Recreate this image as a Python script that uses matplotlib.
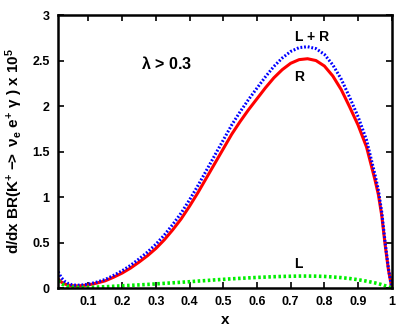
import matplotlib
matplotlib.use("Agg")
import matplotlib.pyplot as plt

plt.rcParams['font.family'] = ['Liberation Sans', 'DejaVu Sans']
plt.rcParams['font.weight'] = 'bold'
plt.rcParams['mathtext.fontset'] = 'custom'
plt.rcParams['mathtext.rm'] = 'Liberation Sans:bold'
plt.rcParams['mathtext.sf'] = 'Liberation Sans'
plt.rcParams['mathtext.it'] = 'Liberation Sans:italic:bold'
plt.rcParams['mathtext.bf'] = 'Liberation Sans:bold'
plt.rcParams['mathtext.default'] = 'rm'

# values (in units of 1e-5)
x = [0.01, 0.02, 0.03, 0.04, 0.05, 0.06, 0.07, 0.08, 0.1, 0.125, 0.15, 0.175,
     0.2, 0.225, 0.25, 0.275, 0.3, 0.325, 0.35, 0.375, 0.4, 0.425, 0.45, 0.475,
     0.5, 0.525, 0.55, 0.575, 0.6, 0.625, 0.65, 0.675, 0.7, 0.725, 0.75, 0.775,
     0.8, 0.825, 0.85, 0.875, 0.9, 0.925, 0.95, 0.96, 0.97, 0.98, 0.99, 1.0]
br_R = [0.10, 0.065, 0.045, 0.033, 0.027, 0.025, 0.025, 0.027, 0.035, 0.055, 0.08, 0.12,
        0.165, 0.22, 0.285, 0.355, 0.435, 0.53, 0.64, 0.76, 0.90, 1.05, 1.21, 1.37,
        1.53, 1.69, 1.83, 1.96, 2.08, 2.20, 2.31, 2.40, 2.47, 2.51, 2.52, 2.50,
        2.44, 2.33, 2.18, 1.99, 1.79, 1.55, 1.19, 1.03, 0.80, 0.48, 0.20, 0.0]
br_L = [0.08, 0.048, 0.028, 0.017, 0.011, 0.008, 0.007, 0.007, 0.008, 0.011, 0.015, 0.02,
        0.025, 0.03, 0.035, 0.04, 0.046, 0.052, 0.058, 0.064, 0.07, 0.077, 0.083, 0.09,
        0.096, 0.102, 0.107, 0.112, 0.117, 0.121, 0.125, 0.128, 0.13, 0.132, 0.132, 0.131,
        0.128, 0.122, 0.115, 0.105, 0.092, 0.076, 0.057, 0.048, 0.038, 0.026, 0.014, 0.0]
br_LR = [0.18, 0.113, 0.073, 0.05, 0.038, 0.033, 0.032, 0.034, 0.043, 0.066, 0.095, 0.14,
         0.19, 0.25, 0.32, 0.395, 0.481, 0.582, 0.698, 0.824, 0.97, 1.127, 1.293, 1.46,
         1.626, 1.792, 1.937, 2.072, 2.197, 2.321, 2.435, 2.528, 2.60, 2.642, 2.652, 2.631,
         2.568, 2.452, 2.295, 2.095, 1.882, 1.626, 1.247, 1.078, 0.838, 0.506, 0.214, 0.0]

xticks = [0.1, 0.2, 0.3, 0.4, 0.5, 0.6, 0.7, 0.8, 0.9, 1.0]
xticklabels = ['0.1', '0.2', '0.3', '0.4', '0.5', '0.6', '0.7', '0.8', '0.9', '1']
yticks = [0, 0.5, 1, 1.5, 2, 2.5, 3]
yticklabels = ['0', '0.5', '1', '1.5', '2', '2.5', '3']

fig = plt.figure(figsize=(4.09, 3.27), dpi=100)
ax = fig.add_axes([0.142, 0.119, 0.816, 0.835])

ax.plot(x, br_R, color='#ff0000', lw=2.2)
ax.plot(x, br_LR, color='#0000ff', lw=2.2, linestyle=(0, (0.6, 0.6)))
ax.plot(x, br_L, color='#00ee00', lw=2.6, linestyle=(0, (0.7, 0.7)))

ax.text(0.762, 2.76, 'L + R', ha='center', va='center', fontsize=10, fontweight='bold')
ax.text(0.726, 2.32, 'R', ha='center', va='center', fontsize=10, fontweight='bold')
ax.text(0.723, 0.26, 'L', ha='center', va='center', fontsize=10, fontweight='bold')
ax.text(0.33, 2.47, r'$\mathsf{\lambda}$ > 0.3', ha='center', va='center',
        fontsize=11.5, fontweight='bold')

ax.set_xlim(0.01, 1.0)
ax.set_ylim(0, 3)
ax.set_xticks(xticks)
ax.set_xticklabels(xticklabels)
ax.set_yticks(yticks)
ax.set_yticklabels(yticklabels)
ax.tick_params(direction='in', length=4, width=1.2, top=True, right=True,
               labelsize=9, pad=6)
for lab in ax.get_xticklabels() + ax.get_yticklabels():
    lab.set_fontweight('bold')
for s in ax.spines.values():
    s.set_linewidth(1.8)

ax.set_xlabel('x', fontsize=11, fontweight='bold', labelpad=3)
ax.set_ylabel(r'd/dx BR(K$^{+}$ $-\!\!>$ $\mathsf{\nu}_{e}$ e$^{+}$ $\mathsf{\gamma}$ ) x 10$^{5}$',
              fontsize=11, fontweight='bold', labelpad=5)

fig.savefig('out.png', dpi=100)
